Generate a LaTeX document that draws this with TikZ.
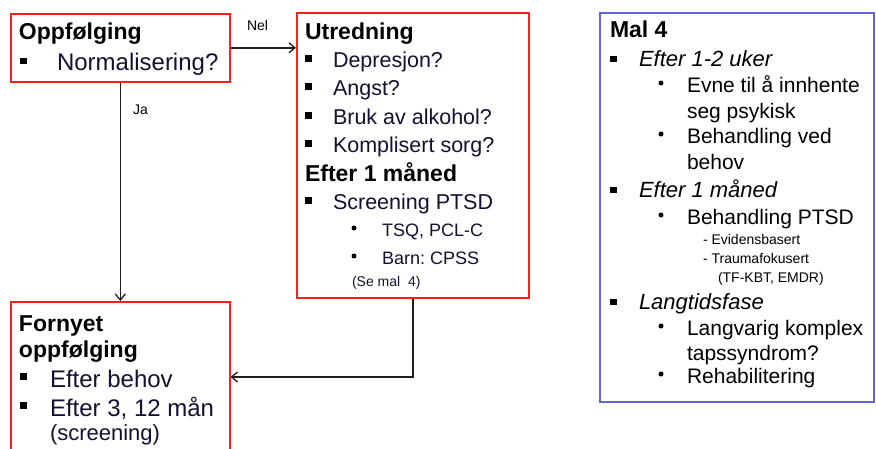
\documentclass[tikz,border=0pt]{standalone}
\usepackage{fontspec}
\setmainfont{Liberation Sans}
\usetikzlibrary{arrows.meta,calc}
\definecolor{boxred}{RGB}{255,30,30}
\definecolor{boxblue}{RGB}{100,100,215}
\definecolor{itemcol}{RGB}{22,16,48}
\definecolor{linecol}{RGB}{30,30,30}
\frenchspacing
\tikzset{
 redbox/.style={draw=boxred, line width=1.6pt, fill=white, anchor=north west, inner sep=0pt},
 bluebox/.style={draw=boxblue, line width=1.6pt, anchor=north west, inner sep=0pt},
 txt/.style={anchor=base west, inner sep=0pt, outer sep=0pt},
 ttl/.style={txt, font=\fontsize{23}{27}\selectfont\bfseries, text=black},
 itA/.style={txt, font=\fontsize{24}{28}\selectfont, text=itemcol},
 itB/.style={txt, font=\fontsize{21.5}{26}\selectfont, text=itemcol},
 itC/.style={txt, font=\fontsize{22}{26}\selectfont, text=itemcol},
 subB/.style={txt, font=\fontsize{18}{22}\selectfont, text=itemcol},
 smalltxt/.style={txt, font=\fontsize{14}{16}\selectfont, text=itemcol},
 itI/.style={txt, font=\fontsize{22}{26}\selectfont\itshape, text=black},
 subM/.style={txt, font=\fontsize{21}{25}\selectfont, text=black},
 tinyM/.style={txt, font=\fontsize{14}{16}\selectfont, text=black},
 lbl/.style={txt, font=\fontsize{14}{16}\selectfont, text=black},
 conn/.style={draw=linecol, line width=1.6pt, -{Straight Barb[length=6pt,width=10pt,line width=1.3pt]}}
}
\newcommand{\sqbul}[2]{\fill[black] ($(#1,#2)+(-3.25,3.25)$) rectangle ++(6.5,-6.5);}
\newcommand{\rdbul}[2]{\fill[black] (#1,#2) circle (2.5pt);}
\begin{document}
\begin{tikzpicture}[x=1pt,y=-1pt]
\useasboundingbox (0,0) rectangle (876,448);
\clip (0,0) rectangle (876,448);
\fill[white] (0,0) rectangle (876,448);
% boxes
\node[redbox, minimum width=219pt, minimum height=68pt] (b1) at (10,13) {};
\node[redbox, minimum width=232pt, minimum height=285pt] (b2) at (296,12) {};
\node[redbox, minimum width=219pt, minimum height=175pt] (b3) at (10,301) {};
\node[bluebox, minimum width=274pt, minimum height=389pt] (b4) at (599,12) {};
% connectors
\draw[conn] (b1.east) -- (b1.east -| b2.west);
\draw[conn] (b1.south) -- (b3.north);
\coordinate (elb) at (412,377);
\draw[conn] (b2.south) |- (b3.east |- elb);
\node[lbl] (nel) at (247,30) {Nel};
\node[lbl] (ja) at (133,114) {Ja};
% box 1
\node[ttl] (t1) at (19,39) {Oppfølging};
\sqbul{23.5}{61}
\node[itA] (t1a) at (57,70) {Normalisering?};
% box 2
\node[ttl] (t2) at (305,39) {Utredning};
\sqbul{308.5}{58.5}
\node[itB] (t2a) at (333,67) {Depresjon?};
\sqbul{308.5}{86.5}
\node[itB] (t2b) at (333,95) {Angst?};
\sqbul{308.5}{115.5}
\node[itB] (t2c) at (333,124) {Bruk av alkohol?};
\sqbul{308.5}{143.5}
\node[itB] (t2d) at (333,152) {Komplisert sorg?};
\node[ttl] (t2e) at (305,181) {Efter 1 måned};
\sqbul{308.5}{200.5}
\node[itB] (t2f) at (333,209) {Screening PTSD};
\rdbul{354}{228}
\node[subB] (t2g) at (382,236) {TSQ, PCL-C};
\rdbul{354}{256}
\node[subB] (t2h) at (382,264) {Barn: CPSS};
\node[smalltxt] (t2i) at (352,286) {(Se mal\ \ 4)};
% box 3
\node[ttl] (t3) at (19,331) {Fornyet};
\node[ttl] (t3a) at (19,357) {oppfølging};
\sqbul{23.5}{376.5}
\node[itA] (t3b) at (50,387) {Efter behov};
\sqbul{23.5}{405.5}
\node[itA] (t3c) at (50,416) {Efter 3, 12 mån};
\node[itC] (t3d) at (50,440) {(screening)};
% box 4
\node[ttl] (t4) at (610,37) {Mal 4};
\sqbul{613.5}{59}
\node[itI] (t4a) at (639,66) {Efter 1-2 uker};
\rdbul{661}{83}
\node[subM] (t4b) at (687,92) {Evne til å innhente};
\node[subM] (t4c) at (687,118) {seg psykisk};
\rdbul{661}{134}
\node[subM] (t4d) at (687,143) {Behandling ved};
\node[subM] (t4e) at (687,169) {behov};
\sqbul{613.5}{190}
\node[itI] (t4f) at (639,197) {Efter 1 måned};
\rdbul{661}{215}
\node[subM] (t4g) at (687,224) {Behandling PTSD};
\node[tinyM] (t4h) at (703,244) {- Evidensbasert};
\node[tinyM] (t4i) at (703,263) {- Traumafokusert};
\node[tinyM] (t4j) at (718,282) {(TF-KBT, EMDR)};
\sqbul{613.5}{302}
\node[itI] (t4k) at (639,309) {Langtidsfase};
\rdbul{661}{326}
\node[subM] (t4l) at (687,335) {Langvarig komplex};
\node[subM] (t4m) at (687,360) {tapssyndrom?};
\rdbul{661}{374}
\node[subM] (t4n) at (687,383) {Rehabilitering};
\end{tikzpicture}
\end{document}
